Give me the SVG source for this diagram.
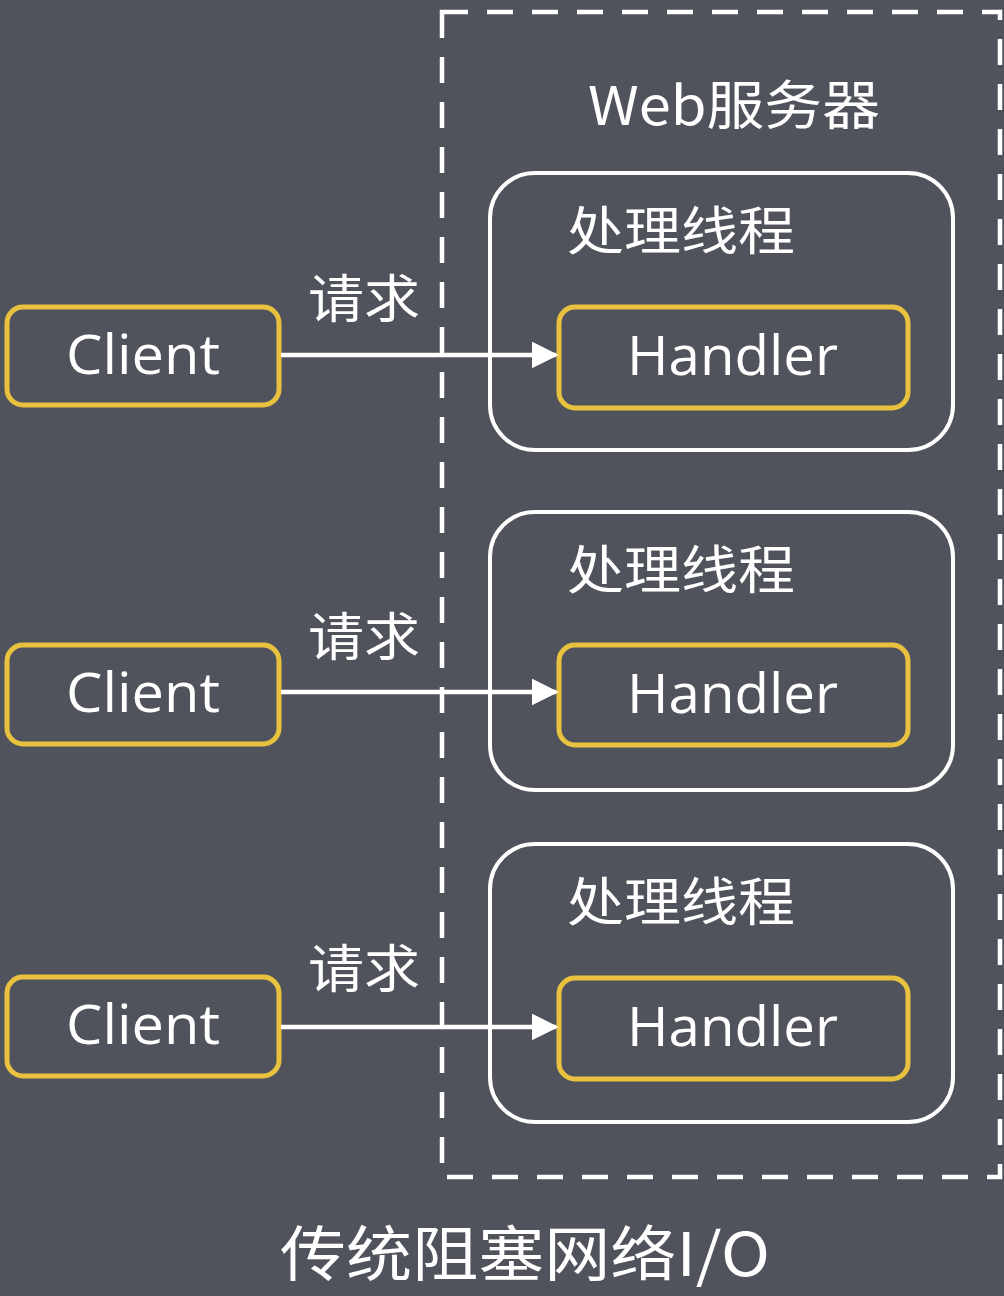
<svg xmlns="http://www.w3.org/2000/svg" width="1004" height="1296" viewBox="0 0 1004 1296">
<defs>
<style>
.bg{fill:#50535c}
.frame{fill:none;stroke:#ffffff;stroke-width:4.5;stroke-dasharray:26 19}
.thread{fill:none;stroke:#ffffff;stroke-width:4}
.node{fill:#50535c;stroke:#e8c23f;stroke-width:5}
.t{fill:#ffffff;font-family:"Open Sans","Noto Sans CJK SC",sans-serif}
.cjk{fill:#ffffff;font-family:"Noto Sans CJK SC",sans-serif}
.edge{stroke:#ffffff;stroke-width:4.5;fill:none}
</style>
<marker id="arr" viewBox="0 0 10 10" refX="9" refY="5" markerWidth="6" markerHeight="6" markerUnits="strokeWidth" orient="auto">
<path d="M0,0 L10,5 L0,10 z" fill="#ffffff"/>
</marker>
</defs>
<rect class="bg" x="0" y="0" width="1004" height="1296"/>
<g id="server">
<rect class="frame" x="442" y="12" width="558" height="1165"/>
<text class="cjk" x="588" y="125" font-size="53" textLength="292" lengthAdjust="spacingAndGlyphs">Web服务器</text>
</g>
<g id="thread1">
<rect class="thread" x="490" y="173" width="463" height="277" rx="45"/>
<text class="cjk" x="567" y="250" font-size="52" textLength="228" lengthAdjust="spacingAndGlyphs">处理线程</text>
</g>
<g id="thread2">
<rect class="thread" x="490" y="512" width="463" height="278" rx="45"/>
<text class="cjk" x="567" y="589" font-size="52" textLength="228" lengthAdjust="spacingAndGlyphs">处理线程</text>
</g>
<g id="thread3">
<rect class="thread" x="490" y="844" width="463" height="278" rx="45"/>
<text class="cjk" x="567" y="921" font-size="52" textLength="228" lengthAdjust="spacingAndGlyphs">处理线程</text>
</g>
<g id="handler1">
<rect class="node" x="559" y="307" width="349" height="101" rx="16"/>
<text class="t" x="627" y="375" font-size="55" textLength="211" lengthAdjust="spacingAndGlyphs">Handler</text>
</g>
<g id="handler2">
<rect class="node" x="559" y="645" width="349" height="100" rx="16"/>
<text class="t" x="627" y="713" font-size="55" textLength="211" lengthAdjust="spacingAndGlyphs">Handler</text>
</g>
<g id="handler3">
<rect class="node" x="559" y="978" width="349" height="101" rx="16"/>
<text class="t" x="627" y="1046" font-size="55" textLength="211" lengthAdjust="spacingAndGlyphs">Handler</text>
</g>
<g id="client1">
<rect class="node" x="7" y="307" width="272" height="98" rx="16"/>
<text class="t" x="66" y="374" font-size="55" textLength="154" lengthAdjust="spacingAndGlyphs">Client</text>
</g>
<g id="client2">
<rect class="node" x="7" y="645" width="272" height="99" rx="16"/>
<text class="t" x="66" y="712" font-size="55" textLength="154" lengthAdjust="spacingAndGlyphs">Client</text>
</g>
<g id="client3">
<rect class="node" x="7" y="977" width="272" height="99" rx="16"/>
<text class="t" x="66" y="1044" font-size="55" textLength="154" lengthAdjust="spacingAndGlyphs">Client</text>
</g>
<g id="connectors">
<line class="edge" x1="281" y1="355" x2="556" y2="355" marker-end="url(#arr)"/>
<line class="edge" x1="281" y1="692" x2="556" y2="692" marker-end="url(#arr)"/>
<line class="edge" x1="281" y1="1027" x2="556" y2="1027" marker-end="url(#arr)"/>
<text class="cjk" x="308" y="318" font-size="52" textLength="112" lengthAdjust="spacingAndGlyphs">请求</text>
<text class="cjk" x="308" y="656" font-size="52" textLength="112" lengthAdjust="spacingAndGlyphs">请求</text>
<text class="cjk" x="308" y="988" font-size="52" textLength="112" lengthAdjust="spacingAndGlyphs">请求</text>
</g>
<text class="cjk" x="280" y="1276" font-size="60" textLength="490" lengthAdjust="spacingAndGlyphs">传统阻塞网络I/O</text>
</svg>
